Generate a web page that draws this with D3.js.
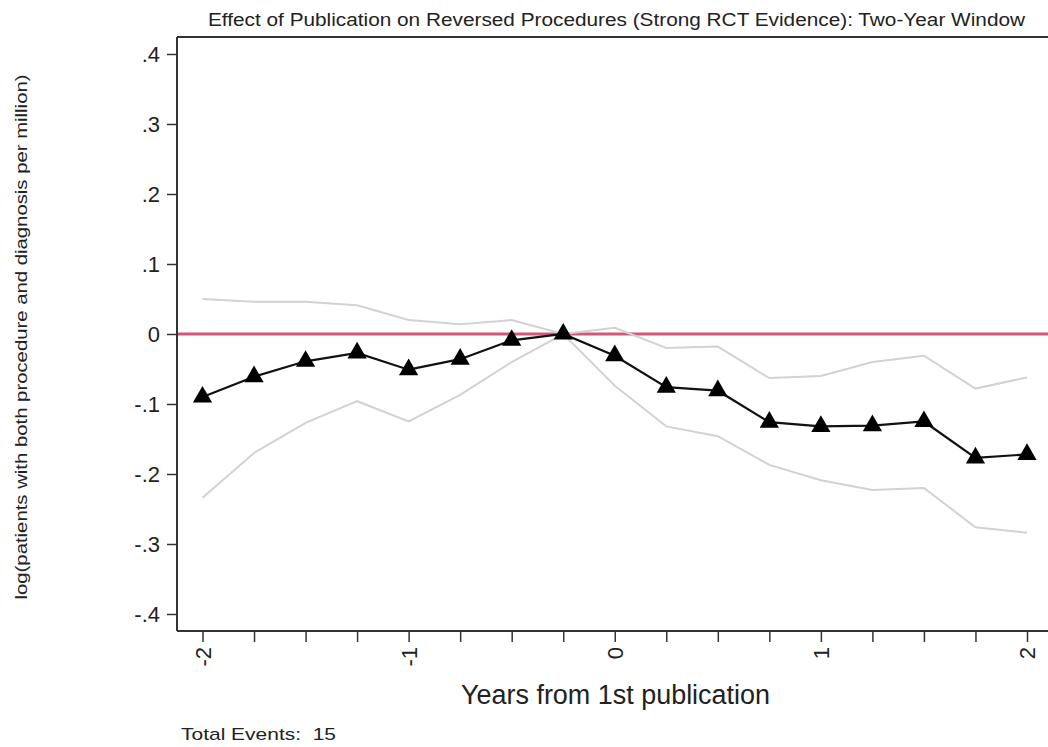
<!DOCTYPE html>
<html><head><meta charset="utf-8">
<script src="https://cdn.jsdelivr.net/npm/d3@7"></script>
<style>
html,body{margin:0;padding:0;background:#fff;}
svg{display:block;}
text{font-family:"Liberation Sans Narrow","Liberation Sans",Arial,sans-serif;fill:#222;white-space:pre;}
</style></head>
<body>
<svg id="c" width="1048" height="747"></svg>
<script>
const years = [-2,-1.75,-1.5,-1.25,-1,-0.75,-0.5,-0.25,0,0.25,0.5,0.75,1,1.25,1.5,1.75,2];
const estimate = [-0.090,-0.061,-0.039,-0.027,-0.051,-0.036,-0.009,0.000,-0.031,-0.076,-0.081,-0.126,-0.132,-0.131,-0.125,-0.177,-0.172];
const upperCI = [0.050,0.046,0.046,0.041,0.020,0.014,0.020,0.000,0.009,-0.020,-0.018,-0.063,-0.060,-0.040,-0.031,-0.078,-0.062];
const lowerCI = [-0.234,-0.170,-0.127,-0.096,-0.125,-0.087,-0.040,0.000,-0.074,-0.132,-0.146,-0.187,-0.209,-0.223,-0.220,-0.276,-0.284];
const yTicks = [0.4,0.3,0.2,0.1,0,-0.1,-0.2,-0.3,-0.4];
const yTickLabels = [".4",".3",".2",".1","0","-.1","-.2","-.3","-.4"];
const xMajor = [-2,-1,0,1,2];
const xMajorLabels = ["-2","-1","0","1","2"];
const titleText = "Effect of Publication on Reversed Procedures (Strong RCT Evidence): Two-Year Window";
const yTitle = "log(patients with both procedure and diagnosis per million)";
const xTitle = "Years from 1st publication";
const note = "Total Events:  15";

const svg = d3.select("#c");
const x = d3.scaleLinear().domain([-2,2]).range([202.5,1027]);
const y = d3.scaleLinear().domain([-0.4,0.4]).range([614,54]);
const pL = 177, pT = 37, pB = 631, pR = 1048;

// frame line (top)
svg.append("line").attr("x1",pL).attr("x2",pR).attr("y1",pT).attr("y2",pT)
  .attr("stroke","#333").attr("stroke-width",2);

// y axis
const yAxis = d3.axisLeft(y).tickValues(yTicks).tickFormat((d,i)=>yTickLabels[i]).tickSize(10).tickPadding(7);
const gy = svg.append("g").attr("transform",`translate(${pL},0)`).call(yAxis);
gy.select(".domain").attr("d",`M0,${pT}V${pB}`).attr("stroke","#333").attr("stroke-width",2);
gy.selectAll(".tick line").attr("stroke","#333").attr("stroke-width",1.5);
gy.selectAll(".tick text").style("font-family","'Liberation Sans',Arial,sans-serif").style("font-size","22px").attr("fill","#222");

// x axis
const xAxis = d3.axisBottom(x).tickValues(years).tickSize(11).tickFormat(d=>{const i=xMajor.indexOf(d);return i>=0?xMajorLabels[i]:"";});
const gx = svg.append("g").attr("transform",`translate(0,${pB})`).call(xAxis);
gx.select(".domain").attr("d",`M${pL},0H${pR}`).attr("stroke","#333").attr("stroke-width",2);
gx.selectAll(".tick line").attr("stroke","#333").attr("stroke-width",1.5);
gx.selectAll(".tick text")
  .style("font-family","'Liberation Sans',Arial,sans-serif").style("font-size","22px").attr("fill","#222")
  .attr("text-anchor","end").attr("dy","0.35em").attr("y",0)
  .attr("transform","translate(0,16) rotate(-90)");

// zero reference line
svg.append("line").attr("x1",pL+1).attr("x2",pR).attr("y1",y(0)).attr("y2",y(0))
  .attr("stroke","#d0587a").attr("stroke-width",3);

const line = d3.line().x((d,i)=>x(years[i])).y(d=>y(d));
svg.append("path").datum(upperCI).attr("d",line).attr("fill","none").attr("stroke","#d2d2d2").attr("stroke-width",2);
svg.append("path").datum(lowerCI).attr("d",line).attr("fill","none").attr("stroke","#d2d2d2").attr("stroke-width",2);
svg.append("path").datum(estimate).attr("d",line).attr("fill","none").attr("stroke","#111").attr("stroke-width",2.2);

const tri = d3.symbol().type(d3.symbolTriangle).size(160);
svg.append("g").selectAll("path").data(estimate).join("path")
  .attr("d",tri).attr("transform",(d,i)=>`translate(${x(years[i])},${y(d)})`)
  .attr("fill","#000");

// titles
svg.append("text").attr("x",616.5).attr("y",26).attr("text-anchor","middle")
  .style("font-size","17.5px").attr("textLength",817).attr("lengthAdjust","spacingAndGlyphs").text(titleText);
svg.append("text").attr("transform","translate(27,337) rotate(-90)").attr("text-anchor","middle")
  .style("font-size","16px").attr("textLength",525).attr("lengthAdjust","spacingAndGlyphs").text(yTitle);
svg.append("text").attr("x",615.5).attr("y",704).attr("text-anchor","middle")
  .style("font-size","27px").attr("textLength",309).attr("lengthAdjust","spacingAndGlyphs").text(xTitle);
svg.append("text").attr("x",181).attr("y",740)
  .style("font-size","17px").attr("textLength",155).attr("lengthAdjust","spacingAndGlyphs").text(note);
</script>
</body></html>
